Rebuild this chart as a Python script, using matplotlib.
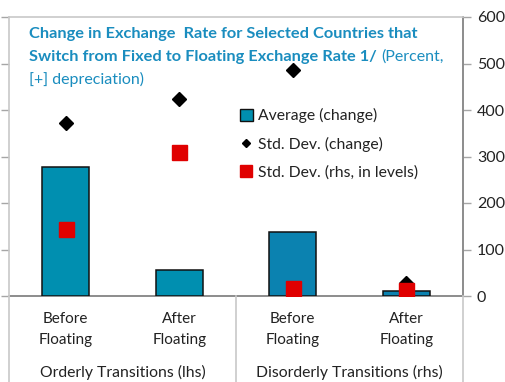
import matplotlib
matplotlib.use("Agg")
import matplotlib.pyplot as plt
from matplotlib.lines import Line2D
from matplotlib.patches import Patch

plt.rcParams['font.family'] = ['Lato', 'DejaVu Sans']

# Data
categories = ["Before\nFloating", "After\nFloating", "Before\nFloating", "After\nFloating"]
groups = ["Orderly Transitions (lhs)", "Disorderly Transitions (rhs)"]
avg_change = [278, 56, 137, 11]
std_change = [371, 423, 486, 27]
std_levels = [144, 309, 17, 13]
yticks = [0, 100, 200, 300, 400, 500, 600]

W, H = 506, 382
fig = plt.figure(figsize=(W / 100, H / 100), dpi=100)
L, R, T, B = 9, 463, 17, 296
ax = fig.add_axes([L / W, 1 - B / H, (R - L) / W, (B - T) / H])

x = list(range(len(categories)))
bar_colors = ["#008fb0", "#008fb0", "#0b82b0", "#0b82b0"]
ax.bar(x, avg_change, width=0.41, color=bar_colors, edgecolor="#111111", linewidth=1.1, zorder=2)
ax.plot(x, std_change, linestyle="none", marker="D", markersize=7.2, color="black", zorder=3)
ax.plot(x, std_levels, linestyle="none", marker="s", markersize=10.8, color="#e00000", zorder=4)

ax.set_xlim(-0.5, len(categories) - 0.5)
ax.set_ylim(0, 600)
ax.set_yticks(yticks)
ax.set_xticks([])
ax.yaxis.set_ticks_position("both")
ax.tick_params(axis="y", which="both", direction="out", length=6, width=1,
               color="#a6a6a6", labelleft=False, labelright=True,
               labelsize=11.5, labelcolor="#222222", pad=4)

for side in ["left", "top"]:
    ax.spines[side].set_color("#c8c8c8")
    ax.spines[side].set_linewidth(1.2)
for side in ["right", "bottom"]:
    ax.spines[side].set_color("#8c8c8c")
    ax.spines[side].set_linewidth(1.4)
ax.spines["bottom"].set_zorder(1)

# Category axis area below the plot
sep_color = "#c8c8c8"
for xp in [L, (L + R) / 2, R]:
    fig.add_artist(Line2D([xp / W, xp / W], [0, 1 - B / H], color=sep_color, linewidth=1.2))

for xi, lab in zip(x, categories):
    ax.text(xi, -0.058, lab, transform=ax.get_xaxis_transform(), ha="center", va="top",
            fontsize=11, color="#222222", linespacing=1.6)
for gi, g in enumerate(groups):
    ax.text(0.5 + 2 * gi, -0.246, g, transform=ax.get_xaxis_transform(), ha="center", va="top",
            fontsize=11.3, color="#222222")

# Title block
tcol = "#1a8dbf"
tfs = 11.8
t1 = fig.text(29 / W, 1 - 34 / H, "Change in Exchange  Rate for Selected Countries that",
              fontsize=tfs, fontweight="bold", color=tcol, va="center", ha="left")
t2 = fig.text(29 / W, 1 - 57 / H, "Switch from Fixed to Floating Exchange Rate 1/",
              fontsize=tfs, fontweight="bold", color=tcol, va="center", ha="left")
fig.canvas.draw()
bb = t2.get_window_extent()
fig.text((bb.x1 + 4) / W, 1 - 57 / H, "(Percent,", fontsize=tfs - 0.3, color=tcol, va="center", ha="left")
fig.text(29 / W, 1 - 79 / H, "[+] depreciation)", fontsize=tfs - 0.3, color=tcol, va="center", ha="left")

# Legend
handles = [
    Patch(facecolor="#008fb0", edgecolor="#111111", linewidth=1.0),
    Line2D([], [], linestyle="none", marker="D", markersize=4.5, color="black"),
    Line2D([], [], linestyle="none", marker="s", markersize=8, color="#e00000"),
]
labels = ["Average (change)", "Std. Dev. (change)", "Std. Dev. (rhs, in levels)"]
leg = ax.legend(handles, labels, loc="upper left", bbox_to_anchor=(240 / W, 1 - 108 / H),
                bbox_transform=fig.transFigure, frameon=False, fontsize=11.3,
                handlelength=0.8, handleheight=0.8, handletextpad=0.35, labelspacing=0.88,
                borderpad=0, borderaxespad=0)
for t in leg.get_texts():
    t.set_color("#222222")

fig.savefig("out.png", dpi=100)
